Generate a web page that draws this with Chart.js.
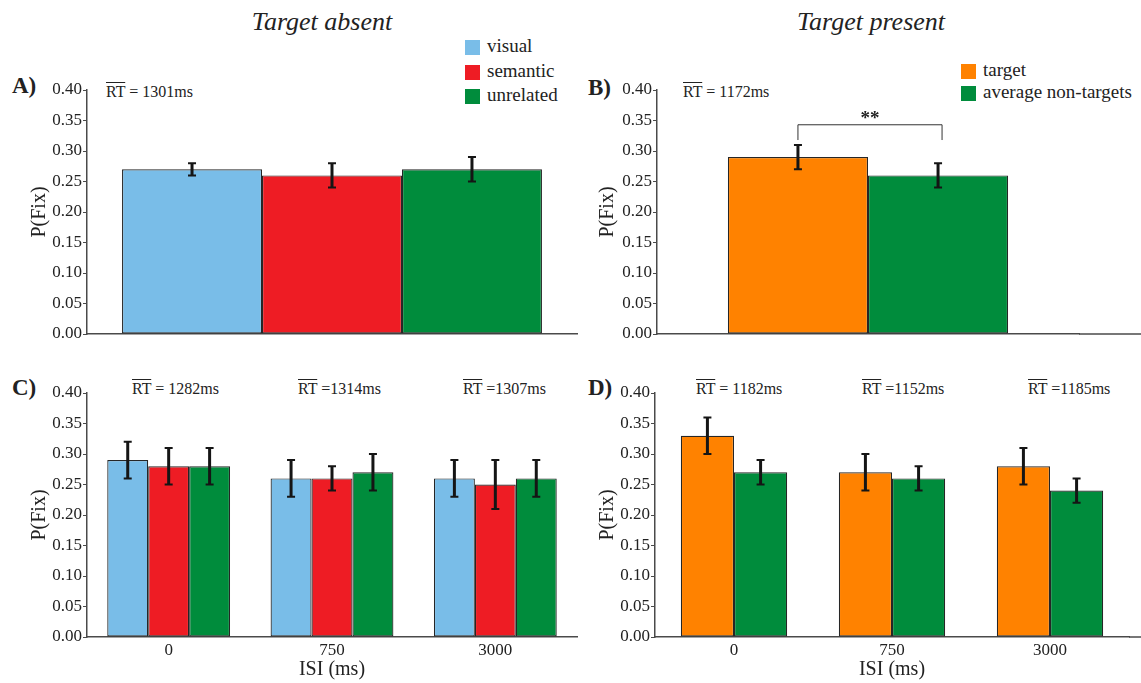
<!DOCTYPE html>
<html>
<head>
<meta charset="utf-8">
<script src="https://cdn.jsdelivr.net/npm/chart.js@4.4.1/dist/chart.umd.min.js"></script>
<style>
  body { margin: 0; background: #fff; }
  #fig { position: relative; width: 1141px; height: 683px; overflow: hidden; font-family: "Liberation Serif", "Times New Roman", serif; color: #222; }
  #fig canvas { position: absolute; }
  .txt { position: absolute; white-space: nowrap; line-height: 1; }
  .head { font-size: 26px; font-style: italic; transform: translateX(-50%); }
  .letter { font-size: 23px; font-weight: bold; }
  .rt { font-size: 16px; }
  .rt span { text-decoration: overline; }
  .leg { font-size: 19px; }
  .sw { position: absolute; width: 15px; height: 15px; }
</style>
</head>
<body>
<div id="fig">
  <div class="txt head" style="left:322px; top:9px;">Target absent</div>
  <div class="txt head" style="left:871px; top:9px;">Target present</div>
  <div class="txt letter" style="left:12px; top:74px;">A)</div>
  <div class="txt letter" style="left:588px; top:76px;">B)</div>
  <div class="txt letter" style="left:12px; top:376px;">C)</div>
  <div class="txt letter" style="left:588px; top:376px;">D)</div>
  <div id="legA"></div>
  <div id="legB"></div>
  <div id="rts"></div>
  <canvas id="chartA" width="580" height="290" style="left:0; top:60px;"></canvas>
  <canvas id="chartB" width="561" height="290" style="left:580px; top:60px;"></canvas>
  <canvas id="chartC" width="580" height="313" style="left:0; top:370px;"></canvas>
  <canvas id="chartD" width="561" height="313" style="left:580px; top:370px;"></canvas>
</div>
<script>
// data
const absentNames = ['visual', 'semantic', 'unrelated'];
const presentNames = ['target', 'average non-targets'];
const isiLabels = ['0', '750', '3000'];

const absentMean = [0.27, 0.26, 0.27];
const absentErr = [0.01, 0.02, 0.02];
const presentMean = [0.29, 0.26];
const presentErr = [0.02, 0.02];

const visualIsi = [0.29, 0.26, 0.26];
const visualIsiErr = [0.03, 0.03, 0.03];
const semanticIsi = [0.28, 0.26, 0.25];
const semanticIsiErr = [0.03, 0.02, 0.04];
const unrelatedIsi = [0.28, 0.27, 0.26];
const unrelatedIsiErr = [0.03, 0.03, 0.03];

const targetIsi = [0.33, 0.27, 0.28];
const targetIsiErr = [0.03, 0.03, 0.03];
const nonTargetIsi = [0.27, 0.26, 0.24];
const nonTargetIsiErr = [0.02, 0.02, 0.02];

const rtAbsent = '1301';
const rtPresent = '1172';
const rtAbsentIsi = ['1282', '1314', '1307'];
const rtPresentIsi = ['1182', '1152', '1185'];

const yMin = 0, yMax = 0.4, yStep = 0.05;

const colors = {
  visual: '#79BDE8',
  semantic: '#EE1C24',
  unrelated: '#008C3C',
  target: '#FF8200',
  nontarget: '#008C3C'
};
const absentColors = [colors.visual, colors.semantic, colors.unrelated];
const presentColors = [colors.target, colors.nontarget];

const serif = '"Liberation Serif", "Times New Roman", serif';
const axisColor = '#4a4a4a';

// error bars drawn from dataset.errors via the y scale
const errorBars = {
  id: 'errorBars',
  afterDatasetsDraw(chart) {
    const ctx = chart.ctx;
    const y = chart.scales.y;
    chart.data.datasets.forEach(function (ds, i) {
      if (!ds.errors) return;
      chart.getDatasetMeta(i).data.forEach(function (bar, j) {
        const top = y.getPixelForValue(ds.data[j] + ds.errors[j]);
        const bot = y.getPixelForValue(ds.data[j] - ds.errors[j]);
        ctx.save();
        ctx.strokeStyle = '#151515';
        ctx.lineWidth = 3;
        ctx.beginPath();
        ctx.moveTo(bar.x, top);
        ctx.lineTo(bar.x, bot);
        ctx.stroke();
        ctx.lineWidth = 2;
        ctx.beginPath();
        ctx.moveTo(bar.x - 4, top);
        ctx.lineTo(bar.x + 4, top);
        ctx.moveTo(bar.x - 4, bot);
        ctx.lineTo(bar.x + 4, bot);
        ctx.stroke();
        ctx.restore();
      });
    });
  }
};

// significance bracket between two bars of the first category
const bracket = {
  id: 'bracket',
  afterDatasetsDraw(chart, args, opts) {
    if (!opts || !opts.label) return;
    const ctx = chart.ctx;
    const y = chart.scales.y;
    const x1 = chart.getDatasetMeta(opts.from).data[0].x;
    const x2 = chart.getDatasetMeta(opts.to).data[0].x + 4;
    const yTop = y.getPixelForValue(opts.value);
    const yDrop = y.getPixelForValue(opts.drop);
    ctx.save();
    ctx.strokeStyle = '#333';
    ctx.lineWidth = 1;
    ctx.beginPath();
    ctx.moveTo(x1, yDrop);
    ctx.lineTo(x1, yTop);
    ctx.lineTo(x2, yTop);
    ctx.lineTo(x2, yDrop);
    ctx.stroke();
    ctx.fillStyle = '#222';
    ctx.font = 'bold 19px ' + serif;
    ctx.textAlign = 'center';
    ctx.textBaseline = 'middle';
    ctx.fillText(opts.label, (x1 + x2) / 2, yTop - 6);
    ctx.restore();
  }
};

// bottom axis continues to the edge of the figure in the right panels
const axisExtend = {
  id: 'axisExtend',
  afterDraw(chart, args, opts) {
    if (!opts || !opts.on) return;
    const ctx = chart.ctx;
    const a = chart.chartArea;
    ctx.save();
    ctx.strokeStyle = axisColor;
    ctx.lineWidth = 1.5;
    ctx.beginPath();
    ctx.moveTo(a.right, a.bottom);
    ctx.lineTo(chart.width, a.bottom);
    ctx.stroke();
    ctx.restore();
  }
};

function makeChart(id, labels, datasets, cfg) {
  const ctx = document.getElementById(id).getContext('2d');
  return new Chart(ctx, {
    type: 'bar',
    data: { labels: labels, datasets: datasets },
    plugins: [errorBars, bracket, axisExtend],
    options: {
      responsive: false,
      animation: false,
      layout: { padding: cfg.padding },
      datasets: {
        bar: {
          categoryPercentage: cfg.catPct,
          barPercentage: 1,
          borderColor: '#262626',
          borderWidth: 1.2,
          borderSkipped: false
        }
      },
      plugins: {
        legend: { display: false },
        tooltip: { enabled: false },
        bracket: cfg.bracket || {},
        axisExtend: { on: !!cfg.extend }
      },
      scales: {
        x: {
          grid: { display: false, drawTicks: false },
          border: { display: true, color: axisColor, width: 1.5 },
          ticks: {
            display: cfg.showX,
            padding: 3,
            color: '#222',
            font: { family: serif, size: 17 }
          },
          title: {
            display: cfg.showX,
            text: 'ISI (ms)',
            color: '#222',
            padding: { top: 0, bottom: 1 },
            font: { family: serif, size: 20 }
          },
          afterFit: function (scale) { scale.height = cfg.xHeight; }
        },
        y: {
          min: yMin,
          max: yMax,
          border: { display: true, color: axisColor, width: 1.5 },
          grid: { drawOnChartArea: false, tickLength: 4, color: axisColor, lineWidth: 1 },
          ticks: {
            stepSize: yStep,
            padding: 1,
            color: '#222',
            font: { family: serif, size: 17 },
            callback: function (v) { return Number(v).toFixed(2); }
          },
          title: {
            display: true,
            text: 'P(Fix)',
            color: '#222',
            padding: { top: cfg.yTitlePad, bottom: 0 },
            font: { family: serif, size: 20 }
          },
          afterFit: function (scale) { scale.width = cfg.yWidth; }
        }
      }
    }
  });
}

function single(name, value, err, color) {
  return { label: name, data: [value], errors: [err], backgroundColor: color };
}

const chartA = makeChart('chartA', [''], absentNames.map(function (n, i) {
  return single(n, absentMean[i], absentErr[i], absentColors[i]);
}), {
  padding: { left: 0, top: 30, right: 3, bottom: 16 },
  catPct: 0.857, showX: false, xHeight: 0, yWidth: 87, yTitlePad: 28
});

const chartB = makeChart('chartB', [''], presentNames.map(function (n, i) {
  return single(n, presentMean[i], presentErr[i], presentColors[i]);
}), {
  padding: { left: 0, top: 30, right: 62, bottom: 16 },
  catPct: 0.664, showX: false, xHeight: 0, yWidth: 77, yTitlePad: 16,
  bracket: { from: 0, to: 1, value: 0.343, drop: 0.318, label: '**' },
  extend: true
});

const chartC = makeChart('chartC', isiLabels, [
  { label: 'visual', data: visualIsi, errors: visualIsiErr, backgroundColor: colors.visual },
  { label: 'semantic', data: semanticIsi, errors: semanticIsiErr, backgroundColor: colors.semantic },
  { label: 'unrelated', data: unrelatedIsi, errors: unrelatedIsiErr, backgroundColor: colors.unrelated }
], {
  padding: { left: 0, top: 23, right: 3, bottom: 0 },
  catPct: 0.752, showX: true, xHeight: 46, yWidth: 87, yTitlePad: 28
});

const chartD = makeChart('chartD', isiLabels, [
  { label: 'target', data: targetIsi, errors: targetIsiErr, backgroundColor: colors.target },
  { label: 'average non-targets', data: nonTargetIsi, errors: nonTargetIsiErr, backgroundColor: colors.nontarget }
], {
  padding: { left: 0, top: 23, right: 12, bottom: 0 },
  catPct: 0.673, showX: true, xHeight: 46, yWidth: 75, yTitlePad: 16,
  extend: true
});

// legends
function legend(elId, names, cols, left, top, gap) {
  const box = document.getElementById(elId);
  names.forEach(function (n, i) {
    const y = top + i * gap;
    const sw = document.createElement('div');
    sw.className = 'sw';
    sw.style.left = left + 'px';
    sw.style.top = (y - 7) + 'px';
    sw.style.background = cols[i];
    box.appendChild(sw);
    const t = document.createElement('div');
    t.className = 'txt leg';
    t.style.left = (left + 22) + 'px';
    t.style.top = (y - 11) + 'px';
    t.textContent = n;
    box.appendChild(t);
  });
}
legend('legA', absentNames, absentColors, 465, 47, 24.5);
legend('legB', presentNames, presentColors, 961, 71, 22);

// mean RT labels
function rtLabel(value, left, top, spaced) {
  const d = document.createElement('div');
  d.className = 'txt rt';
  d.style.left = left + 'px';
  d.style.top = top + 'px';
  d.innerHTML = '<span>RT</span>' + (spaced ? ' = ' : ' =') + value + 'ms';
  document.getElementById('rts').appendChild(d);
}
rtLabel(rtAbsent, 106, 84, true);
rtLabel(rtPresent, 683, 84, true);
const rtLeftC = [132, 298, 463];
const rtLeftD = [696, 862, 1028];
rtAbsentIsi.forEach(function (v, i) { rtLabel(v, rtLeftC[i], 381, i === 0); });
rtPresentIsi.forEach(function (v, i) { rtLabel(v, rtLeftD[i], 381, i === 0); });
</script>
</body>
</html>
